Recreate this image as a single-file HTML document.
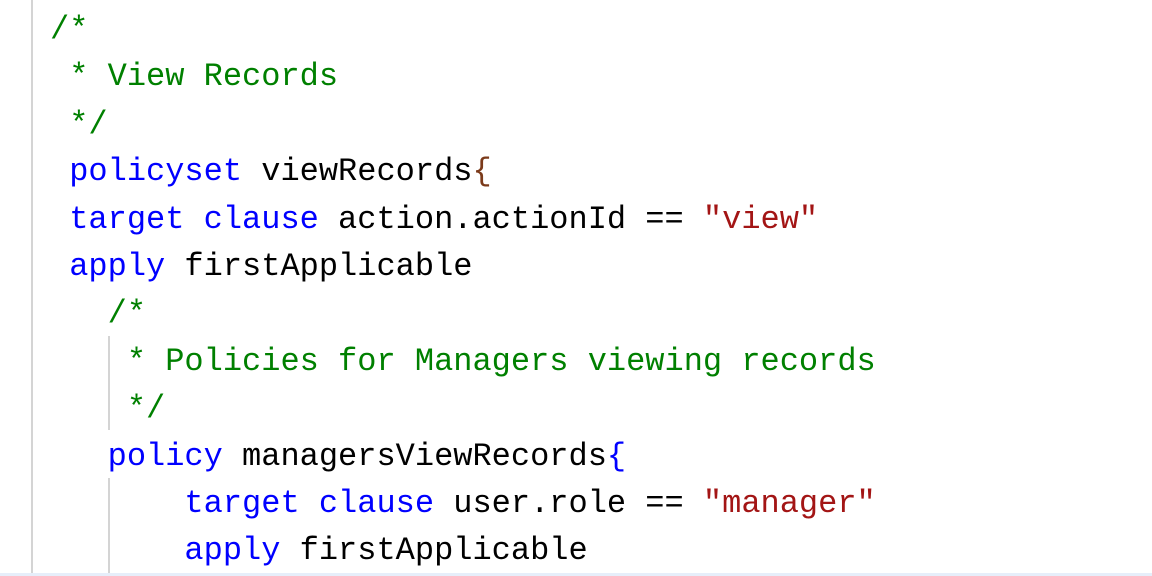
<!DOCTYPE html>
<html><head><meta charset="utf-8"><style>
html,body{margin:0;padding:0;width:1152px;height:576px;overflow:hidden;background:#fff;}
.l{position:absolute;left:50px;height:47.4px;line-height:47.4px;font-family:"Liberation Mono",monospace;font-size:32px;white-space:pre;color:#000;}
.c{color:#008000}.k{color:#0000ff}.s{color:#a31515}.b{color:#7b3a1a}
.g{position:absolute;width:2px;background:#d4d4d4;}
</style></head><body>
<div class="g" style="left:31px;top:0;height:576px"></div>
<div class="g" style="left:108px;top:336px;height:94px"></div>
<div class="g" style="left:108px;top:478px;height:98px"></div>
<div style="position:absolute;left:0;top:573px;width:1152px;height:3px;background:#e6eefa"></div>
<div class="l" style="top:6px"><span class="c">/*</span></div>
<div class="l" style="top:53.4px"><span class="c"> * View Records</span></div>
<div class="l" style="top:100.8px"><span class="c"> */</span></div>
<div class="l" style="top:148.2px"> <span class="k">policyset</span> viewRecords<span class="b">{</span></div>
<div class="l" style="top:195.6px"> <span class="k">target</span> <span class="k">clause</span> action.actionId == <span class="s">"view"</span></div>
<div class="l" style="top:243px"> <span class="k">apply</span> firstApplicable</div>
<div class="l" style="top:290.4px">   <span class="c">/*</span></div>
<div class="l" style="top:337.8px"><span class="c">    * Policies for Managers viewing records</span></div>
<div class="l" style="top:385.2px"><span class="c">    */</span></div>
<div class="l" style="top:432.6px">   <span class="k">policy</span> managersViewRecords<span class="k">{</span></div>
<div class="l" style="top:480px">       <span class="k">target</span> <span class="k">clause</span> user.role == <span class="s">"manager"</span></div>
<div class="l" style="top:527.4px">       <span class="k">apply</span> firstApplicable</div>
</body></html>
